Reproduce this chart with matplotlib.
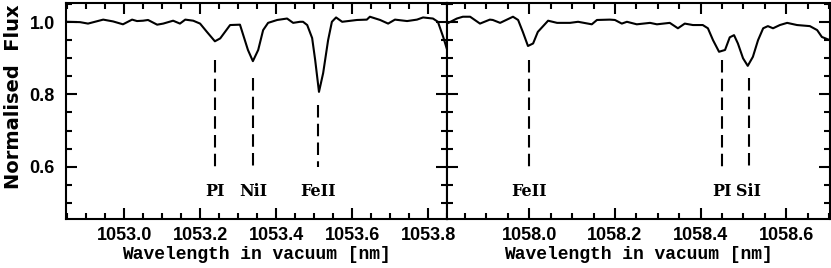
import numpy as np
import matplotlib.pyplot as plt
from matplotlib.ticker import MultipleLocator

# spectrum, left window (nm, normalised flux)
wl_left = [1052.849, 1052.884, 1052.905, 1052.945, 1052.971, 1052.997, 1053.021, 1053.034,
           1053.050, 1053.063, 1053.087, 1053.103, 1053.129, 1053.147, 1053.161, 1053.182,
           1053.200, 1053.218, 1053.239, 1053.253, 1053.279, 1053.305, 1053.326, 1053.339,
           1053.353, 1053.366, 1053.379, 1053.403, 1053.429, 1053.445, 1053.463, 1053.471,
           1053.482, 1053.495, 1053.503, 1053.513, 1053.524, 1053.537, 1053.547, 1053.558,
           1053.574, 1053.613, 1053.639, 1053.647, 1053.674, 1053.695, 1053.713, 1053.745,
           1053.771, 1053.787, 1053.813, 1053.826, 1053.840, 1053.852]
flux_left = [1.001, 1.000, 0.996, 1.007, 1.002, 0.994, 1.007, 1.003,
             1.004, 1.006, 0.993, 0.996, 1.004, 0.996, 1.007, 1.004,
             0.996, 0.973, 0.947, 0.955, 0.992, 0.993, 0.923, 0.892,
             0.923, 0.978, 0.998, 1.006, 1.010, 0.998, 1.001, 1.001,
             0.992, 0.956, 0.895, 0.807, 0.859, 0.950, 1.001, 1.013,
             1.001, 1.006, 1.007, 1.015, 1.006, 0.996, 1.007, 1.003,
             1.007, 1.013, 1.010, 1.001, 0.959, 0.918]

# spectrum, right window
wl_right = [1057.808, 1057.831, 1057.845, 1057.862, 1057.885, 1057.908, 1057.915, 1057.932,
            1057.962, 1057.974, 1057.985, 1057.997, 1058.009, 1058.020, 1058.044, 1058.065,
            1058.095, 1058.114, 1058.146, 1058.158, 1058.188, 1058.200, 1058.216, 1058.228,
            1058.251, 1058.282, 1058.298, 1058.328, 1058.347, 1058.363, 1058.382, 1058.405,
            1058.417, 1058.429, 1058.443, 1058.457, 1058.468, 1058.478, 1058.487, 1058.499,
            1058.510, 1058.522, 1058.534, 1058.546, 1058.557, 1058.569, 1058.585, 1058.602,
            1058.625, 1058.655, 1058.672, 1058.683, 1058.702]
flux_right = [0.996, 1.010, 1.015, 1.015, 0.996, 1.007, 1.006, 0.998,
              1.015, 1.006, 0.973, 0.934, 0.941, 0.973, 1.004, 0.998,
              0.998, 1.001, 0.994, 1.006, 1.007, 1.006, 0.996, 1.001,
              0.994, 0.998, 0.994, 0.998, 0.983, 0.996, 0.992, 0.992,
              0.983, 0.950, 0.918, 0.923, 0.958, 0.964, 0.941, 0.900,
              0.879, 0.904, 0.950, 0.983, 0.989, 0.983, 0.992, 0.998,
              0.992, 0.989, 0.978, 0.959, 0.950]

# line identifications: name, wavelength, top of marker
ids_left = ['PI', 'NiI', 'FeII']
ids_left_wl = [1053.239, 1053.339, 1053.511]
ids_left_top = [0.895, 0.845, 0.770]

ids_right = ['FeII', 'PI', 'SiI']
ids_right_wl = [1058.000, 1058.451, 1058.512]
ids_right_top = [0.895, 0.895, 0.845]

marker_bottom = 0.60
label_y = 0.530

fig = plt.figure(figsize=(8.31, 2.68), dpi=100)
ax1 = fig.add_axes([0.0794, 0.1828, 0.4585, 0.806])
ax2 = fig.add_axes([0.5379, 0.1828, 0.4609, 0.806])

tick_font = {'family': 'Liberation Sans', 'weight': 'bold', 'size': 13}
xlab_font = {'family': 'Liberation Mono', 'weight': 'bold', 'size': 13}
id_font = {'family': 'DejaVu Serif', 'weight': 'bold', 'size': 11.5}


def draw_panel(ax, wl, flux, names, pos, tops, xlim):
    ax.plot(wl, flux, color='black', lw=1.5)
    for name, x, top in zip(names, pos, tops):
        ax.plot([x, x], [top, marker_bottom], color='black', lw=1.5,
                dashes=(6, 3))
        ax.text(x, label_y, name, ha='center', va='center', **id_font)
    ax.set_xlim(*xlim)
    ax.set_ylim(0.455, 1.053)
    ax.xaxis.set_major_locator(MultipleLocator(0.2))
    ax.xaxis.set_minor_locator(MultipleLocator(0.05))
    ax.yaxis.set_major_locator(MultipleLocator(0.2))
    ax.yaxis.set_minor_locator(MultipleLocator(0.05))
    ax.tick_params(which='both', direction='in', top=True, right=True, width=1.5)
    ax.tick_params(which='major', length=8)
    ax.tick_params(which='minor', length=4.5)
    ax.tick_params(axis='x', pad=6)
    ax.tick_params(axis='y', pad=8)
    for s in ax.spines.values():
        s.set_linewidth(1.5)
    ax.set_xlabel('Wavelength in vacuum [nm]', labelpad=1, **xlab_font)
    ax.xaxis.set_major_formatter(plt.FormatStrFormatter('%.1f'))
    ax.yaxis.set_major_formatter(plt.FormatStrFormatter('%.1f'))


draw_panel(ax1, wl_left, flux_left, ids_left, ids_left_wl, ids_left_top, (1052.847, 1053.85))
draw_panel(ax2, wl_right, flux_right, ids_right, ids_right_wl, ids_right_top, (1057.808, 1058.702))

ax2.set_yticklabels([])
for lab in ax1.get_xticklabels() + ax1.get_yticklabels() + ax2.get_xticklabels():
    lab.set_fontproperties(tick_font)

fig.text(0.016, 0.64, 'Normalised  Flux', rotation=90, ha='center', va='center',
         family='DejaVu Sans', weight='bold', size=14)

fig.savefig('out.png', dpi=100)
